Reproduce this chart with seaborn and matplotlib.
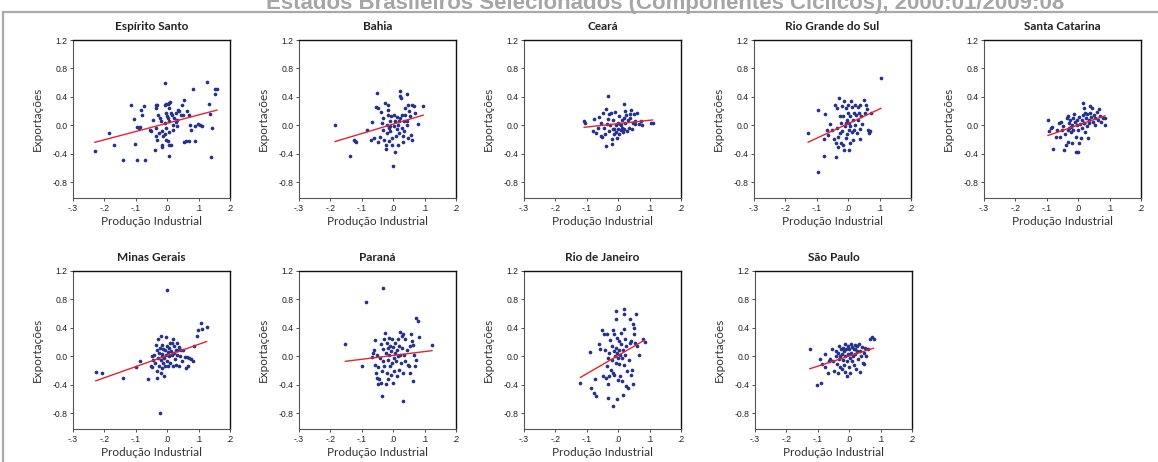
import numpy as np
import matplotlib
matplotlib.use("Agg")
import matplotlib.pyplot as plt
import seaborn as sns
from matplotlib.patches import Rectangle

# ---------------- data (cyclical components: x = Produção Industrial, y = Exportações) -------------
es = np.array([
    (-0.231, -0.365), (-0.186, -0.10), (-0.170, -0.27), (-0.141, -0.48), (-0.116, 0.28), (-0.106, 0.09),
    (-0.101, -0.26), (-0.097, -0.49), (-0.097, -0.02), (-0.090, -0.04), (-0.086, -0.02), (-0.083, 0.21),
    (-0.080, 0.15), (-0.075, 0.27), (-0.070, -0.48), (-0.056, -0.06), (-0.051, -0.08), (-0.046, 0.07),
    (-0.039, -0.34), (-0.037, 0.29), (-0.033, 0.29), (-0.035, 0.24), (-0.035, -0.03), (-0.030, 0.15),
    (-0.024, 0.11), (-0.027, -0.10), (-0.037, -0.15), (-0.033, -0.20), (-0.019, 0.06), (-0.016, -0.08),
    (-0.014, -0.15), (-0.018, -0.27), (-0.016, -0.30), (-0.008, 0.60), (-0.008, 0.29), (-0.003, 0.30),
    (-0.005, 0.18), (-0.001, 0.13), (-0.008, 0.04), (-0.003, -0.03), (-0.007, -0.12), (-0.003, -0.20),
    (0.002, 0.30), (0.005, 0.32), (0.010, 0.33), (0.007, 0.25), (0.002, 0.11), (0.007, 0.06),
    (0.005, -0.09), (0.002, -0.22), (0.005, -0.43), (0.007, -0.28), (0.012, -0.28), (0.013, 0.17),
    (0.016, 0.15), (0.018, 0.01), (0.020, -0.06), (0.023, 0.11), (0.027, 0.05), (0.029, 0.17),
    (0.032, 0.08), (0.034, 0.22), (0.031, -0.01), (0.039, 0.20), (0.045, 0.15), (0.048, 0.29),
    (0.050, 0.15), (0.052, -0.23), (0.055, 0.36), (0.061, -0.22), (0.063, 0.20), (0.069, 0.15),
    (0.071, -0.22), (0.074, 0.01), (0.076, -0.06), (0.082, 0.51), (0.087, -0.01), (0.088, -0.22),
    (0.098, 0.02), (0.106, 0.00), (0.110, -0.01), (0.126, 0.61), (0.132, 0.30), (0.135, 0.16),
    (0.141, -0.44), (0.143, -0.04), (0.151, 0.44), (0.153, 0.51), (0.159, 0.51),
])

ba = np.array([
    (-0.186, 0.01), (-0.138, -0.43), (-0.126, -0.20), (-0.121, -0.22), (-0.117, -0.24), (-0.082, -0.07),
    (-0.071, -0.20), (-0.069, 0.05), (-0.061, -0.17), (-0.055, 0.26), (-0.050, 0.46), (-0.048, 0.25),
    (-0.048, -0.24), (-0.043, -0.16), (-0.039, 0.19), (-0.036, 0.04), (-0.034, -0.06), (-0.032, 0.11),
    (-0.029, -0.21), (-0.027, 0.32), (-0.024, -0.28), (-0.023, -0.33), (-0.021, -0.10), (-0.019, 0.01),
    (-0.018, 0.29), (-0.016, 0.22), (-0.015, 0.15), (-0.013, -0.03), (-0.013, -0.22), (-0.011, 0.06),
    (-0.009, -0.08), (-0.007, 0.13), (-0.005, -0.17), (-0.003, -0.27), (0.000, -0.57), (0.002, 0.15),
    (0.003, -0.01), (0.005, -0.38), (0.007, 0.06), (0.009, -0.15), (0.011, -0.05), (0.013, 0.12),
    (0.014, -0.27), (0.016, 0.01), (0.018, -0.10), (0.019, 0.06), (0.021, 0.49), (0.023, 0.41),
    (0.024, 0.39), (0.027, -0.03), (0.028, 0.15), (0.030, -0.24), (0.032, -0.15), (0.034, 0.06),
    (0.035, -0.08), (0.037, 0.15), (0.039, 0.25), (0.043, 0.44), (0.045, 0.01), (0.046, -0.17),
    (0.048, 0.29), (0.051, 0.20), (0.053, 0.13), (0.056, -0.13), (0.059, -0.21), (0.061, 0.29),
    (0.066, 0.27), (0.070, 0.18), (0.080, 0.02), (0.096, 0.27), (0.043, 0.06), (0.021, 0.11),
    (-0.011, -0.01),
])

ce = np.array([
    (-0.109, 0.06), (-0.105, 0.03), (-0.080, -0.08), (-0.077, 0.09), (-0.072, -0.11), (-0.065, -0.03),
    (-0.061, 0.12), (-0.056, -0.15), (-0.054, 0.04), (-0.051, -0.16), (-0.047, 0.18), (-0.046, -0.03),
    (-0.042, -0.12), (-0.040, -0.29), (-0.038, 0.23), (-0.036, 0.02), (-0.033, 0.42), (-0.032, 0.09),
    (-0.030, -0.08), (-0.028, 0.16), (-0.025, 0.00), (-0.024, 0.18), (-0.021, -0.19), (-0.020, -0.26),
    (-0.017, -0.05), (-0.015, 0.07), (-0.013, -0.12), (-0.010, 0.19), (-0.008, 0.00), (-0.006, -0.09),
    (-0.004, -0.18), (-0.002, 0.04), (0.000, -0.05), (0.002, 0.13), (0.004, -0.12), (0.006, 0.02),
    (0.008, -0.07), (0.011, 0.07), (0.013, -0.03), (0.015, -0.09), (0.017, 0.11), (0.019, -0.05),
    (0.020, 0.30), (0.022, 0.03), (0.023, 0.20), (0.025, 0.15), (0.028, -0.08), (0.031, 0.07),
    (0.033, -0.03), (0.036, 0.11), (0.039, 0.16), (0.041, 0.21), (0.044, -0.05), (0.047, 0.04),
    (0.050, 0.16), (0.052, 0.02), (0.055, 0.06), (0.059, 0.17), (0.066, 0.02), (0.073, 0.06),
    (0.076, 0.00), (0.103, 0.04), (0.110, 0.04), (0.010, 0.00), (-0.012, -0.05),
])

rs = np.array([
    (-0.128, -0.10), (-0.097, 0.22), (-0.095, -0.65), (-0.077, -0.43), (-0.074, 0.16), (-0.077, -0.19),
    (-0.066, -0.06), (-0.063, -0.14), (-0.059, 0.02), (-0.051, -0.06), (-0.045, -0.19), (-0.042, 0.29),
    (-0.040, -0.25), (-0.038, -0.44), (-0.037, 0.25), (-0.035, -0.04), (-0.033, -0.16), (-0.032, -0.30),
    (-0.030, 0.39), (-0.027, 0.13), (-0.026, -0.11), (-0.024, -0.25), (-0.022, 0.04), (-0.021, 0.27),
    (-0.019, -0.08), (-0.017, 0.13), (-0.016, -0.27), (-0.014, 0.34), (-0.012, -0.35), (-0.011, -0.01),
    (-0.008, 0.24), (-0.007, -0.18), (-0.005, 0.08), (-0.003, -0.12), (-0.002, 0.17), (0.000, 0.29),
    (0.001, -0.35), (0.002, -0.06), (0.004, 0.03), (0.005, -0.25), (0.007, 0.13), (0.008, 0.34),
    (0.011, -0.09), (0.013, 0.26), (0.015, -0.20), (0.016, 0.08), (0.018, 0.17), (0.020, -0.06),
    (0.022, 0.28), (0.023, 0.01), (0.025, 0.14), (0.028, -0.11), (0.031, 0.26), (0.032, 0.08),
    (0.034, 0.17), (0.036, -0.05), (0.037, -0.19), (0.039, 0.29), (0.042, 0.13), (0.044, 0.02),
    (0.050, 0.35), (0.053, 0.17), (0.057, 0.28), (0.060, 0.23), (0.063, -0.07), (0.065, -0.11),
    (0.069, -0.08), (0.074, 0.18), (0.105, 0.66), (-0.008, 0.03), (0.007, -0.01),
])

sc = np.array([
    (-0.097, 0.07), (-0.093, -0.08), (-0.088, -0.04), (-0.083, -0.02), (-0.081, -0.33), (-0.072, -0.16),
    (-0.067, -0.07), (-0.062, 0.03), (-0.059, -0.16), (-0.054, 0.05), (-0.051, -0.06), (-0.047, -0.01),
    (-0.044, -0.35), (-0.041, -0.12), (-0.038, -0.28), (-0.036, 0.10), (-0.034, -0.24), (-0.033, -0.07),
    (-0.031, 0.13), (-0.030, 0.04), (-0.028, -0.03), (-0.025, 0.08), (-0.023, -0.09), (-0.021, -0.25),
    (-0.019, 0.00), (-0.017, 0.10), (-0.015, -0.06), (-0.013, 0.16), (-0.011, 0.05), (-0.008, -0.16),
    (-0.006, -0.37), (-0.005, 0.00), (-0.003, 0.08), (-0.001, -0.37), (0.000, -0.07), (0.002, 0.12),
    (0.004, -0.25), (0.006, 0.02), (0.008, -0.18), (0.011, 0.08), (0.013, -0.04), (0.014, 0.31),
    (0.015, 0.15), (0.017, 0.04), (0.019, 0.24), (0.021, -0.09), (0.022, 0.18), (0.024, 0.10),
    (0.027, -0.01), (0.029, 0.16), (0.031, -0.18), (0.033, 0.08), (0.035, 0.03), (0.037, 0.17),
    (0.039, 0.27), (0.041, 0.12), (0.044, 0.24), (0.046, 0.05), (0.049, 0.15), (0.052, 0.00),
    (0.055, 0.10), (0.059, 0.19), (0.063, 0.08), (0.066, 0.23), (0.070, 0.13), (0.073, 0.05),
    (0.079, 0.11), (0.084, 0.10), (0.086, 0.00), (-0.022, -0.02), (0.020, 0.03),
])

mg = np.array([
    (-0.228, -0.22), (-0.207, -0.24), (-0.140, -0.30), (-0.098, -0.15), (-0.087, -0.06), (-0.061, -0.32),
    (-0.053, -0.13), (-0.050, 0.00), (-0.047, -0.15), (-0.045, -0.05), (-0.041, 0.02), (-0.039, -0.09),
    (-0.036, 0.16), (-0.034, -0.30), (-0.033, -0.21), (-0.032, 0.09), (-0.030, -0.02), (-0.028, 0.24),
    (-0.027, -0.13), (-0.026, 0.05), (-0.023, 0.12), (-0.022, -0.79), (-0.021, 0.28), (-0.020, -0.24),
    (-0.019, -0.05), (-0.018, 0.00), (-0.017, -0.16), (-0.016, 0.16), (-0.015, 0.03), (-0.013, -0.09),
    (-0.012, 0.10), (-0.011, -0.28), (-0.010, -0.02), (-0.007, 0.09), (-0.006, -0.13), (-0.005, 0.27),
    (-0.004, 0.02), (-0.002, 0.93), (-0.001, -0.07), (0.000, 0.15), (0.002, 0.06), (0.003, -0.14),
    (0.005, 0.12), (0.006, 0.00), (0.009, 0.19), (0.010, -0.09), (0.012, 0.07), (0.014, 0.02),
    (0.016, 0.19), (0.017, -0.14), (0.019, 0.24), (0.021, 0.05), (0.023, 0.14), (0.024, -0.04),
    (0.027, 0.09), (0.029, -0.12), (0.030, 0.19), (0.032, 0.02), (0.034, 0.09), (0.036, -0.13),
    (0.038, 0.13), (0.040, 0.00), (0.044, 0.09), (0.047, -0.07), (0.051, 0.09), (0.056, -0.01),
    (0.060, -0.16), (0.062, -0.01), (0.065, -0.14), (0.070, -0.02), (0.077, -0.04), (0.083, -0.06),
    (0.086, 0.15), (0.094, 0.28), (0.097, 0.37), (0.107, 0.47), (0.112, 0.38), (0.126, 0.41),
])

pr = np.array([
    (-0.153, 0.17), (-0.098, -0.13), (-0.088, 0.76), (-0.069, -0.01), (-0.064, 0.05), (-0.062, 0.09),
    (-0.059, -0.12), (-0.057, 0.23), (-0.055, -0.24), (-0.053, -0.31), (-0.051, 0.02), (-0.049, -0.15),
    (-0.048, -0.39), (-0.046, -0.32), (-0.043, -0.02), (-0.040, 0.18), (-0.038, -0.38), (-0.036, -0.21),
    (-0.035, -0.56), (-0.034, 0.10), (-0.032, 0.96), (-0.031, -0.07), (-0.029, 0.24), (-0.028, -0.13),
    (-0.027, 0.33), (-0.024, 0.05), (-0.023, -0.39), (-0.021, 0.19), (-0.020, -0.24), (-0.018, 0.12),
    (-0.017, -0.05), (-0.015, -0.32), (-0.014, 0.26), (-0.013, 0.02), (-0.011, -0.14), (-0.010, 0.15),
    (-0.007, -0.26), (-0.006, 0.07), (-0.004, 0.24), (-0.003, -0.09), (-0.001, -0.38), (0.000, 0.13),
    (0.002, -0.02), (0.003, -0.20), (0.005, 0.19), (0.006, 0.05), (0.009, -0.07), (0.011, 0.09),
    (0.012, -0.28), (0.014, 0.24), (0.016, 0.00), (0.017, -0.19), (0.019, 0.15), (0.021, 0.34),
    (0.022, 0.02), (0.024, -0.09), (0.027, 0.28), (0.028, 0.12), (0.030, -0.62), (0.031, -0.24),
    (0.032, 0.31), (0.034, 0.02), (0.036, -0.07), (0.038, 0.24), (0.043, 0.09), (0.046, -0.12),
    (0.049, -0.14), (0.052, 0.14), (0.053, -0.24), (0.056, 0.31), (0.060, 0.21), (0.062, -0.35),
    (0.064, 0.16), (0.067, 0.02), (0.070, -0.14), (0.072, 0.54), (0.074, -0.05), (0.078, 0.50),
    (0.082, 0.27), (0.124, 0.16),
])

rj = np.array([
    (-0.121, -0.38), (-0.089, 0.06), (-0.086, -0.45), (-0.078, -0.51), (-0.072, -0.56), (-0.073, -0.32),
    (-0.061, 0.17), (-0.059, 0.10), (-0.052, 0.37), (-0.049, -0.27), (-0.046, 0.31), (-0.043, 0.09),
    (-0.040, -0.31), (-0.036, -0.14), (-0.036, 0.32), (-0.033, -0.02), (-0.032, -0.59), (-0.031, -0.39),
    (-0.029, -0.27), (-0.028, 0.05), (-0.025, 0.23), (-0.023, -0.19), (-0.021, -0.05), (-0.019, 0.15),
    (-0.017, 0.37), (-0.017, -0.24), (-0.015, -0.69), (-0.014, 0.07), (-0.013, 0.31), (-0.012, -0.26),
    (-0.011, 0.01), (-0.008, 0.12), (-0.007, -0.09), (-0.006, 0.64), (-0.006, 0.53), (-0.005, 0.26),
    (-0.004, 0.05), (-0.003, -0.60), (-0.002, -0.33), (-0.001, -0.02), (0.001, 0.21), (0.002, -0.10),
    (0.003, 0.09), (0.005, -0.27), (0.006, 0.02), (0.008, 0.33), (0.010, 0.18), (0.012, -0.35),
    (0.013, -0.02), (0.014, -0.54), (0.016, 0.09), (0.017, 0.66), (0.018, 0.60), (0.019, 0.38),
    (0.020, -0.12), (0.021, 0.24), (0.023, 0.02), (0.025, -0.42), (0.026, 0.14), (0.029, -0.21),
    (0.031, -0.45), (0.033, -0.05), (0.036, 0.19), (0.038, 0.52), (0.040, -0.26), (0.042, 0.21),
    (0.044, -0.19), (0.047, -0.39), (0.048, 0.45), (0.049, 0.40), (0.051, 0.31), (0.054, 0.19),
    (0.057, 0.59), (0.060, 0.15), (0.066, 0.02), (0.084, 0.20), (0.078, 0.24),
])

sp = np.array([
    (-0.126, 0.11), (-0.102, -0.40), (-0.091, -0.38), (-0.094, -0.04), (-0.086, -0.10), (-0.078, -0.15),
    (-0.077, 0.04), (-0.068, -0.24), (-0.065, -0.07), (-0.060, -0.04), (-0.055, 0.10), (-0.050, -0.06),
    (-0.047, -0.20), (-0.043, 0.08), (-0.041, 0.00), (-0.039, -0.10), (-0.037, -0.23), (-0.035, 0.05),
    (-0.033, -0.04), (-0.031, 0.14), (-0.029, 0.00), (-0.028, -0.15), (-0.025, 0.10), (-0.023, -0.17),
    (-0.022, 0.04), (-0.020, 0.12), (-0.019, -0.05), (-0.017, -0.12), (-0.016, 0.07), (-0.014, 0.17),
    (-0.013, -0.22), (-0.012, 0.00), (-0.010, 0.10), (-0.008, -0.27), (-0.006, -0.07), (-0.005, 0.14),
    (-0.003, 0.04), (-0.001, -0.15), (0.000, 0.11), (0.002, -0.02), (0.003, -0.24), (0.005, 0.17),
    (0.006, 0.05), (0.008, -0.07), (0.010, 0.13), (0.012, 0.00), (0.014, 0.10), (0.015, -0.12),
    (0.017, 0.16), (0.019, 0.04), (0.020, 0.11), (0.022, -0.18), (0.024, 0.07), (0.026, 0.14),
    (0.029, -0.04), (0.031, 0.18), (0.033, -0.22), (0.035, 0.08), (0.037, 0.00), (0.040, 0.13),
    (0.043, -0.09), (0.047, 0.05), (0.050, 0.12), (0.054, 0.00), (0.059, 0.10), (0.065, 0.24),
    (0.072, 0.27), (0.078, 0.25), (0.048, -0.10),
])

states = ["Espírito Santo", "Bahia", "Ceará", "Rio Grande do Sul", "Santa Catarina",
          "Minas Gerais", "Paraná", "Rio de Janeiro", "São Paulo"]
state_data = [es, ba, ce, rs, sc, mg, pr, rj, sp]

x_ticks = [-0.3, -0.2, -0.1, 0.0, 0.1, 0.2]
x_ticklabels = ["-.3", "-.2", "-.1", ".0", ".1", ".2"]
y_ticks = [-0.8, -0.4, 0.0, 0.4, 0.8, 1.2]
y_ticklabels = ["-0.8", "-0.4", "0.0", "0.4", "0.8", "1.2"]

main_title = "Estados Brasileiros Selecionados (Componentes Cíclicos), 2000:01/2009:08"
x_label = "Produção Industrial"
y_label = "Exportações"

# ---------------- styling ----------------
sns.set_style("ticks")
plt.rcParams["font.family"] = ["Lato", "DejaVu Sans"]

W, H = 1158, 462
fig = plt.figure(figsize=(W / 100, H / 100), dpi=100)

# outer grey frame + title (partly cut off at the top, as in the reference)
fig.patches.append(Rectangle((3 / W, -0.05), 1.2, 1 - 12 / H + 0.05, transform=fig.transFigure,
                             fill=False, edgecolor="#a9a9a9", linewidth=1.6))
fig.text(665 / W, 1 - 9 / H, main_title, ha="center", va="baseline", fontsize=16,
         fontweight="bold", color="#a6a6a6", family=["Liberation Sans", "DejaVu Sans"])

# axes placement (pixels)
lefts = [73, 299, 524, 754, 984, 73, 299, 524, 755]
tops = [40] * 5 + [271] * 4
aw, ah = 157, 158

dot_color = "#24318f"
for i, (name, arr) in enumerate(zip(states, state_data)):
    l, t = lefts[i], tops[i]
    ax = fig.add_axes([l / W, 1 - (t + ah) / H, aw / W, ah / H])
    sns.regplot(x=arr[:, 0], y=arr[:, 1], ax=ax, ci=None, truncate=True,
                scatter_kws=dict(s=7, color=dot_color, linewidths=0, alpha=1),
                line_kws=dict(color="#e3242b", linewidth=1.0))
    ax.set_xlim(-0.3, 0.2)
    ax.set_ylim(-1.02, 1.2)
    ax.set_xticks(x_ticks)
    ax.set_xticklabels(x_ticklabels, family=["Liberation Sans"], fontsize=6.2)
    ax.set_yticks(y_ticks)
    ax.set_yticklabels(y_ticklabels, family=["Liberation Sans"], fontsize=6.2)
    ax.tick_params(length=2.5, width=0.6, pad=1.5, color="#333333", labelcolor="#222222")
    for side in ["left", "bottom"]:
        ax.spines[side].set_color("#555555")
        ax.spines[side].set_linewidth(0.8)
    for side in ["top", "right"]:
        ax.spines[side].set_color("#111111")
        ax.spines[side].set_linewidth(1.0)
    ax.set_title(name, fontsize=8.5, fontweight="bold", pad=7, color="#222222")
    ax.set_xlabel(x_label, fontsize=8.5, color="#333333")
    ax.set_ylabel(y_label, fontsize=8.5, color="#333333")
    ax.xaxis.set_label_coords(0.5, -18 / ah)
    ax.yaxis.set_label_coords(-30 / aw, 0.5)

fig.savefig("out.png", dpi=100)
